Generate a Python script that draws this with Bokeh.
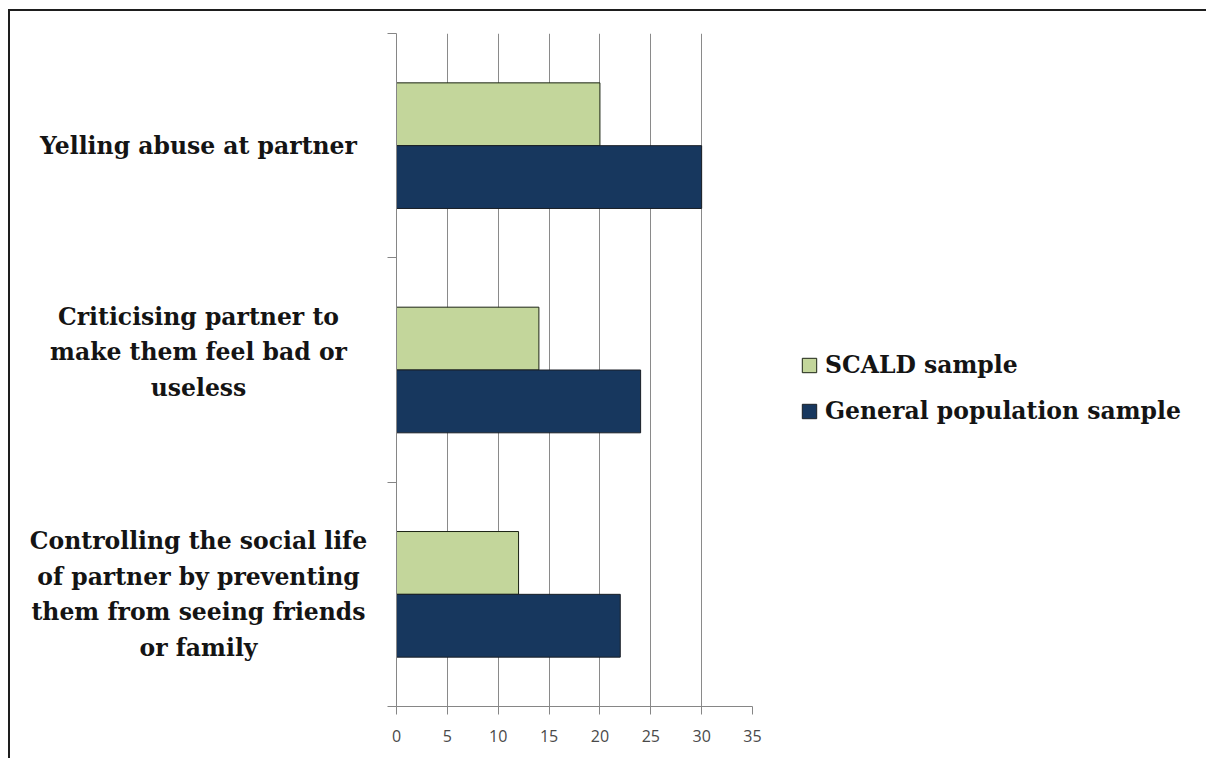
from bokeh.plotting import figure
from bokeh.layouts import row
from bokeh.models import ColumnDataSource, Range1d, FixedTicker, Legend, LegendItem
from bokeh.transform import dodge
from bokeh.core.properties import value
from bokeh.embed import file_html
from bokeh.resources import INLINE

categories = [
    "Controlling the social life\nof partner by preventing\nthem from seeing friends\nor family",
    "Criticising partner to\nmake them feel bad or\nuseless\n",
    "Yelling abuse at partner",
]
scald = [12, 14, 20]
general = [22, 24, 30]
series_names = ["SCALD sample", "General population sample"]
series_colors = ["#c3d69b", "#17375e"]
series_lines = ["#1c2414", "#1a1f26"]
x_ticks = [0, 5, 10, 15, 20, 25, 30, 35]

pos = list(range(1, len(categories) + 1))
src = ColumnDataSource(dict(y=pos, scald=scald, general=general, label=categories))
y_range = Range1d(0.5, len(categories) + 0.5)

TOP, BOTTOM = 22, 52
H = 747
LW = 370            # label column
MW = 16 + 356 + 10  # main chart
RW = 1196 - LW - MW  # legend column

# ---- left figure: category labels ----
pl = figure(width=LW, height=H, output_backend="svg", toolbar_location=None,
            x_range=Range1d(0, LW), y_range=y_range,
            min_border_left=0, min_border_right=0, min_border_top=TOP, min_border_bottom=BOTTOM)
pl.axis.visible = False
pl.grid.visible = False
pl.outline_line_color = None
pl.text(x=188, y="y", text="label", source=src,
        text_font=value("DejaVu Serif"), text_font_style="bold", text_font_size="23.5px",
        text_color="#141414", text_align="center", text_baseline="middle",
        text_line_height=1.27)

# ---- main figure ----
p = figure(width=MW, height=H, output_backend="svg", toolbar_location=None,
           x_range=Range1d(0, 35), y_range=y_range,
           min_border_left=16, min_border_right=10,
           min_border_top=TOP, min_border_bottom=BOTTOM)
p.outline_line_color = None

p.hbar(y=dodge("y", 0.14, range=y_range), left=0, right="scald", height=0.28, source=src,
       fill_color=series_colors[0], line_color=series_lines[0], line_width=1)
p.hbar(y=dodge("y", -0.14, range=y_range), left=0, right="general", height=0.28, source=src,
       fill_color=series_colors[1], line_color=series_lines[1], line_width=1)

p.ygrid.visible = False
p.xgrid.ticker = FixedTicker(ticks=x_ticks)
p.xgrid.grid_line_color = "#8a8a8a"
p.xgrid.grid_line_width = 1

xa = p.xaxis[0]
xa.ticker = FixedTicker(ticks=x_ticks)
xa.axis_line_color = "#868686"
xa.major_tick_line_color = "#868686"
xa.major_tick_out = 8
xa.major_tick_in = 0
xa.minor_tick_line_color = None
xa.major_label_text_font = "Open Sans"
xa.major_label_text_font_size = "16px"
xa.major_label_text_color = "#4a4a4a"
xa.major_label_standoff = 15

ya = p.yaxis[0]
ya.ticker = FixedTicker(ticks=pos, minor_ticks=[k + 0.5 for k in range(0, len(categories) + 1)])
ya.major_label_overrides = {k: "" for k in pos}
ya.axis_line_color = "#868686"
ya.major_tick_line_color = None
ya.major_tick_out = 0
ya.major_tick_in = 0
ya.minor_tick_line_color = "#868686"
ya.minor_tick_out = 9
ya.minor_tick_in = 0
ya.major_label_standoff = 0
ya.major_label_text_font_size = "1px"

# ---- right figure: legend (its bars lie outside its view) ----
pr = figure(width=RW, height=H, output_backend="svg", toolbar_location=None,
            x_range=Range1d(-10, -9), y_range=Range1d(-10, -9),
            min_border_left=0, min_border_right=0, min_border_top=0, min_border_bottom=0)
pr.axis.visible = False
pr.grid.visible = False
pr.outline_line_color = None
items = []
for name, col, fc, lc in zip(series_names, ["scald", "general"], series_colors, series_lines):
    rr = pr.hbar(y="y", left=0, right=col, height=0.28, source=src,
                 fill_color=fc, line_color=lc, line_width=1)
    items.append(LegendItem(label=name, renderers=[rr], index=0))

legend = Legend(items=items, location=(38, 281), orientation="vertical")
legend.glyph_width = 18
legend.glyph_height = 18
legend.label_standoff = 7
legend.label_height = 24
legend.spacing = 18
legend.padding = 0
legend.margin = 0
legend.border_line_color = None
legend.background_fill_alpha = 0
legend.label_text_font = "DejaVu Serif"
legend.label_text_font_style = "bold"
legend.label_text_font_size = "23.5px"
legend.label_text_color = "#141414"
pr.add_layout(legend)

layout = row(pl, p, pr)
layout.styles = {"border-top": "2px solid #1e1e1e", "border-left": "2px solid #1e1e1e",
                 "margin-top": "9px", "margin-left": "8px"}

open("out.html", "w").write(file_html(layout, INLINE))
